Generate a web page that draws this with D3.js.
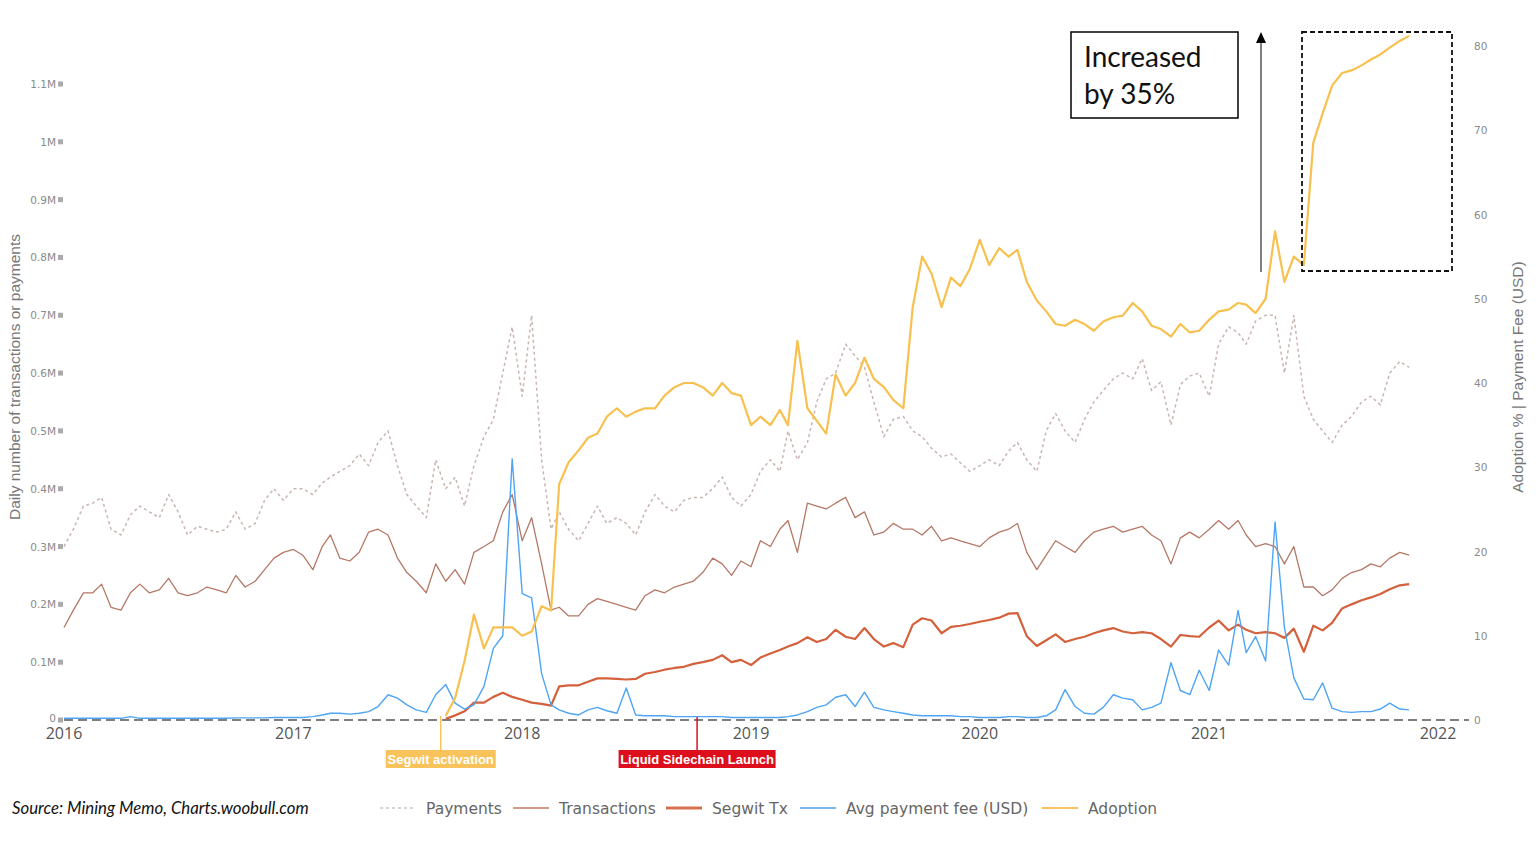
<!DOCTYPE html>
<html><head><meta charset="utf-8">
<script src="https://cdn.jsdelivr.net/npm/d3@7/dist/d3.min.js"></script>
<style>
html,body{margin:0;padding:0;background:#fff;}
svg{display:block;}
</style></head>
<body>
<svg id="chart" width="1536" height="841"></svg>
<script>
// ---------- DATA (semi-monthly samples, 1st & 16th of each month, Jan 2016 – Nov 2021) ----------
const firstDate = "2016-01-01";
const sampleCount = 142;

// Payments (millions per day)
const payments = [
0.30,0.33,0.37,0.375,0.385,0.33,0.32,0.355,0.37,0.36,0.35,0.39,0.36,0.32,0.335,0.33,0.325,0.33,0.36,0.33,
0.34,0.38,0.40,0.38,0.40,0.40,0.39,0.41,0.42,0.43,0.44,0.46,0.44,0.48,0.50,0.44,0.39,0.37,0.35,0.45,
0.40,0.42,0.37,0.44,0.49,0.52,0.60,0.68,0.56,0.70,0.45,0.33,0.36,0.33,0.31,0.34,0.37,0.34,0.35,0.34,
0.32,0.36,0.39,0.37,0.36,0.38,0.385,0.385,0.40,0.42,0.385,0.37,0.39,0.43,0.45,0.43,0.50,0.45,0.48,0.55,
0.59,0.60,0.65,0.63,0.61,0.55,0.49,0.52,0.525,0.50,0.49,0.47,0.455,0.46,0.445,0.43,0.44,0.45,0.44,0.465,
0.48,0.45,0.43,0.50,0.53,0.50,0.48,0.52,0.55,0.57,0.59,0.60,0.59,0.625,0.57,0.585,0.51,0.58,0.595,0.60,
0.56,0.65,0.68,0.67,0.65,0.69,0.70,0.70,0.60,0.70,0.56,0.52,0.50,0.48,0.51,0.525,0.55,0.56,0.545,0.60,
0.62,0.61];

// Transactions (millions per day)
const transactions = [
0.16,0.19,0.22,0.22,0.235,0.195,0.19,0.22,0.235,0.22,0.225,0.245,0.22,0.215,0.22,0.23,0.225,0.22,0.25,0.23,
0.24,0.26,0.28,0.29,0.295,0.285,0.26,0.30,0.32,0.28,0.275,0.29,0.325,0.33,0.32,0.28,0.255,0.24,0.22,0.27,
0.24,0.26,0.235,0.29,0.30,0.31,0.36,0.39,0.31,0.35,0.27,0.19,0.195,0.18,0.18,0.20,0.21,0.205,0.20,0.195,
0.19,0.215,0.225,0.22,0.23,0.235,0.24,0.255,0.28,0.27,0.25,0.275,0.265,0.31,0.30,0.33,0.345,0.29,0.375,0.37,
0.365,0.375,0.385,0.35,0.36,0.32,0.325,0.34,0.33,0.33,0.32,0.335,0.31,0.315,0.31,0.305,0.30,0.315,0.325,0.33,
0.34,0.29,0.26,0.285,0.31,0.30,0.29,0.31,0.325,0.33,0.335,0.325,0.33,0.335,0.32,0.31,0.27,0.315,0.325,0.315,
0.33,0.345,0.33,0.345,0.32,0.30,0.305,0.30,0.27,0.30,0.23,0.23,0.215,0.225,0.245,0.255,0.26,0.27,0.265,0.28,
0.29,0.285];

// Segwit transactions (millions per day), starts at activation
const segwitTx = [
null,null,null,null,null,null,null,null,null,null,null,null,null,null,null,null,null,null,null,null,
null,null,null,null,null,null,null,null,null,null,null,null,null,null,null,null,null,null,null,null,
0.002,0.008,0.015,0.03,0.03,0.04,0.047,0.04,0.035,0.03,0.028,0.025,0.058,0.06,0.06,0.066,0.072,0.072,0.071,0.07,
0.071,0.08,0.083,0.087,0.09,0.092,0.097,0.10,0.104,0.112,0.10,0.104,0.095,0.108,0.115,0.121,0.127,0.133,0.143,0.135,
0.14,0.156,0.144,0.14,0.159,0.14,0.127,0.133,0.126,0.165,0.176,0.172,0.15,0.161,0.163,0.166,0.17,0.173,0.177,0.184,
0.185,0.145,0.128,0.138,0.148,0.135,0.14,0.144,0.15,0.155,0.159,0.153,0.15,0.152,0.15,0.14,0.127,0.147,0.145,0.144,
0.16,0.172,0.155,0.165,0.156,0.15,0.152,0.15,0.142,0.158,0.118,0.163,0.155,0.168,0.193,0.20,0.207,0.212,0.218,0.226,
0.233,0.235];

// Average payment fee (USD)
const avgFee = [
0.2,0.2,0.2,0.2,0.2,0.2,0.2,0.4,0.2,0.2,0.2,0.2,0.2,0.2,0.2,0.2,0.2,0.2,0.25,0.25,
0.25,0.25,0.3,0.3,0.3,0.3,0.4,0.6,0.8,0.8,0.7,0.8,1.0,1.6,3.0,2.6,1.8,1.2,0.9,3.0,
4.2,2.0,1.3,1.8,4.0,8.5,10,31,15,14.5,5.5,1.8,1.2,0.8,0.6,1.2,1.5,1.1,0.8,3.8,
0.6,0.5,0.5,0.5,0.4,0.4,0.4,0.4,0.4,0.4,0.3,0.3,0.3,0.3,0.3,0.3,0.4,0.6,1.0,1.5,
1.8,2.7,3.0,1.6,3.3,1.5,1.2,1.0,0.8,0.6,0.5,0.5,0.5,0.5,0.4,0.4,0.3,0.3,0.3,0.4,
0.4,0.3,0.3,0.5,1.2,3.6,1.6,0.8,0.7,1.5,3.0,2.6,2.4,1.2,1.5,2.0,6.8,3.5,3.0,5.9,
3.5,8.3,6.5,13.0,8.0,9.9,7.0,23.5,11,5.0,2.5,2.4,4.4,1.4,1.0,0.9,1.0,1.0,1.3,2.0,
1.3,1.2];

// Segwit adoption (%)
const adoption = [
null,null,null,null,null,null,null,null,null,null,null,null,null,null,null,null,null,null,null,null,
null,null,null,null,null,null,null,null,null,null,null,null,null,null,null,null,null,null,null,null,
0.5,2.6,7.0,12.5,8.5,11,11,11,10,10.5,13.5,13,28,30.6,32,33.5,34,36,37,36,
36.6,37,37,38.5,39.5,40,40,39.5,38.5,40,38.8,38.5,35,36,35,36.8,35,45,37,35.5,
34,41,38.5,40,43,40.5,39.5,38,37,49,55,53,49,52.5,51.5,53.5,57,54,56,55,
55.8,52,49.8,48.5,47,46.8,47.5,47,46.2,47.3,47.8,48,49.5,48.5,46.8,46.4,45.5,47,46,46.2,
47.5,48.5,48.7,49.5,49.3,48.3,50,58,52,55,54,68.5,72,75.3,76.8,77.1,77.7,78.4,79,79.8,
80.6,81.2];

// Axis ticks / labels
const leftTicks = [0,0.1,0.2,0.3,0.4,0.5,0.6,0.7,0.8,0.9,1.0,1.1];
const rightTicks = [0,10,20,30,40,50,60,70,80];
const yearTicks = ["2016","2017","2018","2019","2020","2021","2022"];

const seriesNames = ["Payments","Transactions","Segwit Tx","Avg payment fee (USD)","Adoption"];
const events = [
  {date:"2017-08-24", label:"Segwit activation"},
  {date:"2018-10-07", label:"Liquid Sidechain Launch"}
];
const boxText = ["Increased","by 35%"];
const sourceText = "Source: Mining Memo, Charts.woobull.com";

// ---------- BUILD ----------
const parse = d3.timeParse("%Y-%m-%d");
const dates = [];
{
  let d = parse(firstDate);
  while (dates.length < sampleCount) {
    dates.push(new Date(d));
    dates.push(new Date(d.getFullYear(), d.getMonth(), 16));
    d = d3.timeMonth.offset(d, 1);
  }
  dates.length = sampleCount;
}

const svg = d3.select("#chart");
const x = d3.scaleTime().domain([parse("2016-01-01"), parse("2022-01-01")]).range([64, 1438]);
const yL = d3.scaleLinear().domain([0, 1.1]).range([720, 84]);
const yR = d3.scaleLinear().domain([0, 80]).range([720, 46]);

// zero axis line (dashed)
svg.append("line").attr("x1", 64).attr("x2", 1469).attr("y1", yL(0)).attr("y2", yL(0))
  .attr("stroke", "#555").attr("stroke-width", 1.5).attr("stroke-dasharray", "9,5");

// left ticks
const lt = svg.append("g");
leftTicks.forEach(v => {
  const lab = v === 0 ? "0" : (v === 1 ? "1M" : d3.format(".1f")(v) + "M");
  lt.append("text").attr("x", 56).attr("y", yL(v) + (v === 0 ? 2 : 4)).attr("text-anchor", "end")
    .attr("font-family", "DejaVu Sans, sans-serif").attr("font-size", 10.5).attr("fill", "#8a8a8a").text(lab);
  lt.append("rect").attr("x", 58).attr("y", yL(v) - 2.5).attr("width", 5).attr("height", 5).attr("fill", "#aaa");
});
// right ticks
rightTicks.forEach(v => {
  svg.append("text").attr("x", 1474).attr("y", yR(v) + 4).attr("text-anchor", "start")
    .attr("font-family", "DejaVu Sans, sans-serif").attr("font-size", 10.5).attr("fill", "#8a8a8a").text(v);
});
// year labels
yearTicks.forEach(t => {
  svg.append("text").attr("x", x(parse(t + "-01-01"))).attr("y", 739).attr("text-anchor", "middle")
    .attr("font-family", "Open Sans, sans-serif").attr("font-size", 16).attr("fill", "#555").text(t);
});
// axis titles
svg.append("text").attr("transform", "translate(20,377) rotate(-90)").attr("text-anchor", "middle")
  .attr("font-family", "Liberation Sans, Arial, sans-serif").attr("font-size", 15.5).attr("fill", "#777")
  .text("Daily number of transactions or payments");
svg.append("text").attr("transform", "translate(1523,377) rotate(-90)").attr("text-anchor", "middle")
  .attr("font-family", "Liberation Sans, Arial, sans-serif").attr("font-size", 15.5).attr("fill", "#777")
  .text("Adoption % | Payment Fee (USD)");

// event markers
const evStyle = [{c:"#f9c35c", w:110}, {c:"#dd0f1c", w:157}];
events.forEach((e, i) => {
  const ex = x(parse(e.date));
  svg.append("line").attr("x1", ex).attr("x2", ex).attr("y1", 716).attr("y2", 750)
    .attr("stroke", evStyle[i].c).attr("stroke-width", 1.5);
  svg.append("rect").attr("x", ex - evStyle[i].w / 2).attr("y", 750).attr("width", evStyle[i].w).attr("height", 18)
    .attr("fill", evStyle[i].c);
  svg.append("text").attr("x", ex).attr("y", 764).attr("text-anchor", "middle")
    .attr("font-family", "Liberation Sans, Arial, sans-serif").attr("font-weight", "bold")
    .attr("font-size", 13).attr("fill", "#fff").text(e.label);
});

// lines
const mkLine = (scale, vals) => d3.line()
  .defined((d, i) => vals[i] !== null)
  .x((d, i) => x(dates[i])).y((d, i) => scale(vals[i]));

const styles = {
  payments: {c:"#c9b5b1", w:1.5, dash:"3,3"},
  transactions: {c:"#b57866", w:1.3},
  segwit: {c:"#d4603c", w:2.2},
  fee: {c:"#4ea5f5", w:1.4},
  adoption: {c:"#f8c04e", w:2.2}
};
function draw(vals, scale, st) {
  svg.append("path").datum(vals).attr("d", mkLine(scale, vals)(vals))
    .attr("fill", "none").attr("stroke", st.c).attr("stroke-width", st.w)
    .attr("stroke-linejoin", "round").attr("stroke-dasharray", st.dash || null);
}
draw(payments, yL, styles.payments);
draw(transactions, yL, styles.transactions);
draw(segwitTx, yL, styles.segwit);
draw(avgFee, yR, styles.fee);
draw(adoption, yR, styles.adoption);

// annotation: text box
svg.append("rect").attr("x", 1071).attr("y", 32).attr("width", 167).attr("height", 86)
  .attr("fill", "#fff").attr("stroke", "#000").attr("stroke-width", 1.5);
boxText.forEach((t, i) => {
  svg.append("text").attr("x", 1084).attr("y", 67 + i * 37).attr("font-family", "Lato, sans-serif")
    .attr("font-size", 28).attr("fill", "#111").text(t);
});
// arrow
svg.append("line").attr("x1", 1261).attr("x2", 1261).attr("y1", 272).attr("y2", 40)
  .attr("stroke", "#555").attr("stroke-width", 1.5);
svg.append("path").attr("d", "M1256,43 L1266,43 L1261,32 Z").attr("fill", "#000");
// dashed box
svg.append("rect").attr("x", 1302).attr("y", 32).attr("width", 150).attr("height", 239)
  .attr("fill", "none").attr("stroke", "#111").attr("stroke-width", 1.8).attr("stroke-dasharray", "5,3");

// source
svg.append("text").attr("x", 12).attr("y", 814).attr("font-family", "Lato, sans-serif")
  .attr("font-style", "italic").attr("font-size", 16.8).attr("fill", "#111").text(sourceText);

// legend
const legendX = [380, 513, 666, 800, 1042];
const legendSym = [
  {c:"#c8c8c8", w:1.5, dash:"3,3"},
  {c:"#d49a88", w:1.8},
  {c:"#d6704f", w:3},
  {c:"#7ab7ef", w:2},
  {c:"#f8c460", w:2}
];
seriesNames.forEach((n, i) => {
  svg.append("line").attr("x1", legendX[i]).attr("x2", legendX[i] + 36).attr("y1", 808).attr("y2", 808)
    .attr("stroke", legendSym[i].c).attr("stroke-width", legendSym[i].w).attr("stroke-dasharray", legendSym[i].dash || null);
  svg.append("text").attr("x", legendX[i] + 46).attr("y", 814).attr("font-family", "DejaVu Sans, sans-serif")
    .attr("font-size", 15.5).attr("fill", "#666").text(n);
});
</script>
</body></html>
